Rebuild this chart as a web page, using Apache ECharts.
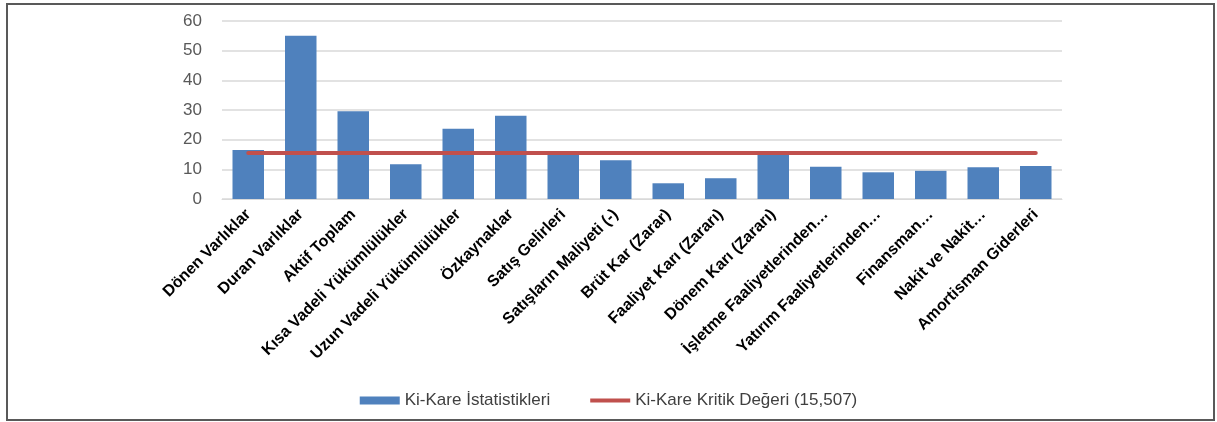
<!DOCTYPE html>
<html>
<head>
<meta charset="utf-8">
<script src="https://cdn.jsdelivr.net/npm/echarts@6/dist/echarts.min.js"></script>
<style>
  html, body { margin: 0; padding: 0; background: #fff; }
</style>
</head>
<body>
<div id="main" style="width: 1217px;height: 422px"></div>

<script type="text/javascript">
    // kategoriler ve değerler
    var kalemler = ['Dönen Varlıklar', 'Duran Varlıklar', 'Aktif Toplam', 'Kısa Vadeli Yükümlülükler',
        'Uzun Vadeli Yükümlülükler', 'Özkaynaklar', 'Satış Gelirleri', 'Satışların Maliyeti (-)',
        'Brüt Kar (Zarar)', 'Faaliyet Karı (Zararı)', 'Dönem Karı (Zararı)', 'İşletme Faaliyetlerinden…',
        'Yatırım Faaliyetlerinden…', 'Finansman…', 'Nakit ve Nakit…', 'Amortisman Giderleri'];
    var kiKare = [16.5, 55, 29.6, 11.7, 23.7, 28.1, 15.1, 13.1, 5.3, 7.0, 15.2, 10.9, 9.0, 9.5, 10.7, 11.1];
    var kritik = [15.507, 15.507, 15.507, 15.507, 15.507, 15.507, 15.507, 15.507,
        15.507, 15.507, 15.507, 15.507, 15.507, 15.507, 15.507, 15.507];
    var yTicks = [0, 10, 20, 30, 40, 50, 60];

    var myChart = echarts.init(document.getElementById('main'));

    var option = {
        animation: false,
        textStyle: { fontFamily: 'Liberation Sans, Arial, sans-serif' },
        graphic: [{
            type: 'rect',
            shape: { x: 7, y: 4, width: 1207, height: 416 },
            style: { fill: 'none', stroke: '#595959', lineWidth: 2 }
        }],
        grid: { left: 222, right: 155, top: 21, bottom: 223 },
        legend: {
            bottom: 8,
            left: 'center',
            itemGap: 40,
            itemWidth: 40,
            itemHeight: 8,
            textStyle: { fontSize: 17, color: '#404040' },
            data: [
                { name: 'Ki-Kare İstatistikleri', icon: 'rect' },
                { name: 'Ki-Kare Kritik Değeri (15,507)', icon: 'path://M0,0 L40,0 L40,4 L0,4 Z' }
            ]
        },
        xAxis: {
            type: 'category',
            data: kalemler,
            axisLine: { lineStyle: { color: '#d9d9d9', width: 1 } },
            axisTick: { show: false },
            axisLabel: {
                interval: 0,
                rotate: 45,
                margin: 13,
                fontSize: 16,
                fontWeight: 'bold',
                color: '#000'
            }
        },
        yAxis: {
            type: 'value',
            min: yTicks[0],
            max: yTicks[yTicks.length - 1],
            interval: 10,
            axisLine: { show: false },
            axisTick: { show: false },
            splitLine: { lineStyle: { color: '#d9d9d9', width: 1.5 } },
            axisLabel: { fontSize: 17, color: '#595959', margin: 20 }
        },
        series: [{
            name: 'Ki-Kare İstatistikleri',
            type: 'bar',
            data: kiKare,
            barCategoryGap: '40%',
            itemStyle: { color: '#4f81bd' }
        }, {
            name: 'Ki-Kare Kritik Değeri (15,507)',
            type: 'line',
            data: kritik,
            symbol: 'none',
            lineStyle: { color: '#c0504d', width: 4, cap: 'round' },
            itemStyle: { color: '#c0504d' }
        }]
    };

    myChart.setOption(option);
</script>
</body>
</html>
